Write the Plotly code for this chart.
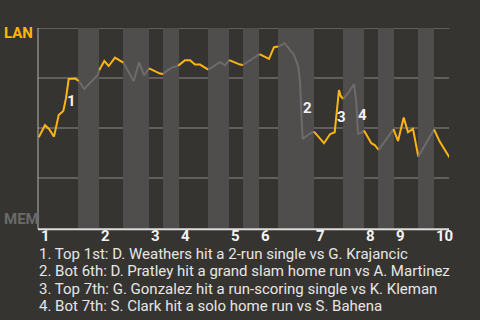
import plotly.graph_objects as go

# Game progress units (plate-appearance timeline) and LAN win probability
progress = [0.2, 6.5, 10.5, 15.5, 20.2, 24.8, 27.5, 30.2, 36.8, 40.2, 45.8, 59.2, 60.8, 65.8, 70.2,
            76.5, 84.8, 95.2, 100.5, 105.5, 110.5, 116.5, 121.5, 124.8, 128.2, 133.2, 139.8, 141.5,
            146.5, 151.5, 156.5, 161.5, 169.8, 176.5, 181.5, 186.5, 190.8, 196.5, 201.5, 204.5,
            216.5, 221.0, 230.5, 235.5, 239.8, 246.2, 251.5, 255.5, 259.8, 261.5, 262.8, 264.2,
            270.5, 275.5, 285.5, 291.5, 296.2, 300.5, 302.2, 304.8, 309.5, 315.5, 317.8, 319.5,
            322.8, 325.5, 332.8, 336.2, 340.2, 355.0, 359.5, 365.2, 369.5, 374.5, 379.8, 395.5,
            401.2, 411.0]
lan_wp = [0.454, 0.514, 0.495, 0.457, 0.565, 0.585, 0.649, 0.745, 0.747, 0.735, 0.695, 0.765, 0.790,
          0.835, 0.810, 0.852, 0.827, 0.735, 0.828, 0.764, 0.798, 0.785, 0.772, 0.770, 0.785, 0.802,
          0.812, 0.819, 0.839, 0.839, 0.817, 0.817, 0.792, 0.815, 0.829, 0.814, 0.839, 0.827, 0.817,
          0.815, 0.857, 0.869, 0.845, 0.904, 0.907, 0.924, 0.890, 0.865, 0.805, 0.730, 0.580, 0.445,
          0.470, 0.482, 0.424, 0.469, 0.479, 0.690, 0.660, 0.645, 0.674, 0.719, 0.632, 0.472, 0.477,
          0.487, 0.424, 0.415, 0.390, 0.494, 0.435, 0.552, 0.479, 0.495, 0.357, 0.493, 0.432, 0.352]

# Start of each half-inning (top, bottom alternating), plus end of timeline
half_starts = [0.0, 39.5, 60.5, 84.5, 110.5, 124.5, 140.5, 169.5, 190.5, 204.5, 220.5, 239.5,
               275.5, 304.5, 325.5, 339.5, 355.5, 379.5, 395.5]
timeline_end = 411.0
inning_labels = ["1", "2", "3", "4", "5", "6", "7", "8", "9", "10"]

event_labels = ["1", "2", "3", "4"]
event_x = [33.2, 268.8, 303.2, 323.5]
event_wp = [0.637, 0.599, 0.557, 0.565]
event_text = [
    "1. Top 1st: D. Weathers hit a 2-run single vs G. Krajancic",
    "2. Bot 6th: D. Pratley hit a grand slam home run vs A. Martinez",
    "3. Top 7th: G. Gonzalez hit a run-scoring single vs K. Kleman",
    "4. Bot 7th: S. Clark hit a solo home run vs S. Bahena",
]

BG = "#363430"
BAND = "#4f4e4c"
ORANGE = "#FDB414"
GRAYLINE = "#6c6c6c"
FONT = "Roboto"

def half_index(x):
    idx = 0
    for i, s in enumerate(half_starts):
        if x >= s:
            idx = i
    return idx

fig = go.Figure()

groups = []
for i in range(len(progress) - 1):
    mid = (progress[i] + progress[i + 1]) / 2
    color = ORANGE if half_index(mid) % 2 == 0 else GRAYLINE
    if groups and groups[-1][0] == color:
        groups[-1][1].append(i + 1)
    else:
        groups.append([color, [i, i + 1]])

for color, idxs in groups:
    fig.add_trace(go.Scatter(
        x=[progress[j] for j in idxs], y=[lan_wp[j] for j in idxs],
        mode="lines", line=dict(color=color, width=2), hoverinfo="skip", showlegend=False))

shapes = []
bounds = half_starts + [timeline_end]
for i in range(1, len(half_starts), 2):
    shapes.append(dict(type="rect", xref="x", yref="y", x0=bounds[i], x1=bounds[i + 1],
                       y0=0, y1=1, fillcolor=BAND, line=dict(width=0), layer="below"))
for gy in [0.25, 0.5, 0.75, 1.0]:
    shapes.append(dict(type="line", xref="paper", yref="y", x0=0, x1=1, y0=gy, y1=gy,
                       line=dict(color="#8a8a8a", width=1), layer="below"))
shapes.append(dict(type="line", xref="paper", yref="paper", x0=0, x1=0, y0=-0.006, y1=1,
                   line=dict(color="#b4b4b4", width=1)))
shapes.append(dict(type="line", xref="paper", yref="paper", x0=0, x1=1, y0=-0.006, y1=-0.006,
                   line=dict(color="#dddddd", width=2)))

annotations = []
for lab, ex, ey in zip(event_labels, event_x, event_wp):
    annotations.append(dict(x=ex, y=ey, xref="x", yref="y", text=lab, showarrow=False,
                            font=dict(family=FONT, size=15, color="#f2f2f2", weight="bold")))
inning_starts = half_starts[0::2]
for lab, sx in zip(inning_labels, inning_starts):
    annotations.append(dict(x=sx, y=-0.041, xref="x", yref="paper", text=lab, showarrow=False,
                            xanchor="left", yanchor="middle", xshift=1, borderpad=0,
                            font=dict(family=FONT, size=15, color="#f2f2f2", weight="bold")))
legend_y = [-0.130, -0.2160, -0.3030, -0.39]
for t, ly in zip(event_text, legend_y):
    annotations.append(dict(x=0, y=ly, xref="paper", yref="paper", text=t, showarrow=False,
                            xanchor="left", yanchor="middle", xshift=0, borderpad=0,
                            font=dict(family=FONT, size=15, color="#e6e6e6")))
annotations.append(dict(x=-0.0876, y=0.9725, xref="paper", yref="paper", text="LAN", showarrow=False,
                        xanchor="left", yanchor="middle",
                        font=dict(family=FONT, size=15, color=ORANGE, weight="bold")))
annotations.append(dict(x=-0.0876, y=0.045, xref="paper", yref="paper", text="MEM", showarrow=False,
                        xanchor="left", yanchor="middle",
                        font=dict(family=FONT, size=15, color="#6a6a6a", weight="bold")))

fig.update_layout(
    width=480, height=320,
    margin=dict(l=38, r=31, t=28, b=92, pad=0),
    paper_bgcolor=BG, plot_bgcolor=BG,
    xaxis=dict(range=[-0.5, 410.5], showgrid=False, zeroline=False, showticklabels=False,
               showline=False, fixedrange=True),
    yaxis=dict(range=[0, 1], showgrid=False, zeroline=False, showticklabels=False,
               showline=False, fixedrange=True),
    shapes=shapes, annotations=annotations, showlegend=False,
)

fig.write_html("out.html", config={"displayModeBar": False})
